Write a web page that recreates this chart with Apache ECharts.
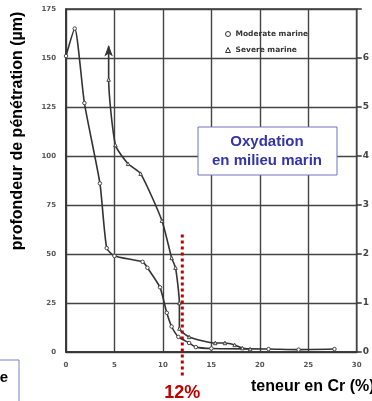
<!DOCTYPE html>
<html>
<head>
<meta charset="utf-8">
<script src="https://cdn.jsdelivr.net/npm/echarts@6/dist/echarts.min.js"></script>
<style>
  html, body { margin: 0; padding: 0; background: #fff; }
  #main { width: 372px; height: 401px; }
</style>
</head>
<body>
<div id="main"></div>
<script>
// valeurs (teneur Cr %, profondeur µm)
var moderateX = [0, 0.9, 1.9, 3.5, 4.2, 5, 7.9, 8.4, 9.7, 10.4, 10.9, 11.6, 12.7, 13.4, 15, 20.9, 24, 27.7];
var moderateY = [151, 165, 127, 86, 53, 49, 46, 43, 33, 20, 13, 7.7, 4.6, 2.5, 1.8, 1.5, 1.2, 1.5];
var severeX = [4.4, 4.4, 5.1, 6.4, 7.7, 9.9, 10.9, 11.3, 11.7, 11.7, 12.7, 15.4, 16.4, 17.4, 18.2, 19];
var severeY = [156, 139, 105.6, 96, 91, 67, 48, 43, 25, 12, 7.7, 4.6, 4.6, 3.6, 2, 1.5];
var xTicks = [0, 5, 10, 15, 20, 25, 30];
var yTicks = [0, 25, 50, 75, 100, 125, 150, 175];
var rightTicks = [0, 1, 2, 3, 4, 5, 6, 7];
var limitCr = 12;      // ligne rouge
var limitTop = 60;

function pairs(xs, ys) {
  var out = [];
  for (var i = 0; i < xs.length; i++) out.push([xs[i], ys[i]]);
  return out;
}

var severeData = pairs(severeX, severeY);
// la premiere valeur porte la fleche
severeData[0] = { value: severeData[0], symbol: 'arrow', symbolSize: [5, 9], itemStyle: { color: '#333', borderColor: '#333' } };

var lblStyle = { fontSize: 7, fontWeight: 'bold', color: '#555', fontFamily: 'DejaVu Sans' };

var myChart = echarts.init(document.getElementById('main'));
myChart.setOption({
  animation: false,
  backgroundColor: '#fff',
  grid: { left: 66, right: 9, top: 9, bottom: 49, show: true, borderColor: '#333', borderWidth: 1.5 },
  legend: {
    orient: 'vertical',
    left: 220,
    top: 25,
    itemWidth: 5,
    itemHeight: 5,
    itemGap: 8,
    data: [
      { name: 'Moderate marine', icon: 'circle' },
      { name: 'Severe marine', icon: 'triangle' }
    ],
    itemStyle: { color: '#fff', borderColor: '#333', borderWidth: 1 },
    textStyle: { fontSize: 7.5, fontWeight: 'bold', color: '#333', fontFamily: 'DejaVu Sans' }
  },
  xAxis: {
    type: 'value',
    min: xTicks[0],
    max: xTicks[xTicks.length - 1],
    interval: 5,
    axisLine: { lineStyle: { color: '#333', width: 1.5 } },
    axisTick: { show: false },
    axisLabel: Object.assign({ margin: 10 }, lblStyle),
    splitLine: { lineStyle: { color: '#444', width: 1.4 } }
  },
  yAxis: [{
    type: 'value',
    min: yTicks[0],
    max: yTicks[yTicks.length - 1],
    interval: 25,
    axisLine: { show: true, lineStyle: { color: '#333', width: 1.5 } },
    axisTick: { show: false },
    axisLabel: Object.assign({ margin: 10 }, lblStyle),
    splitLine: { lineStyle: { color: '#444', width: 1.4 } }
  }, {
    type: 'value',
    position: 'right',
    min: rightTicks[0],
    max: rightTicks[rightTicks.length - 1],
    interval: 1,
    axisLine: { show: false },
    axisTick: { show: true, inside: false, length: 5, lineStyle: { color: '#333', width: 1.5 } },
    axisLabel: Object.assign({ margin: 6, formatter: function (v) { return v === 7 ? '' : v; } }, lblStyle, { fontSize: 9, color: '#444' }),
    splitLine: { show: false }
  }],
  series: [{
    name: 'Moderate marine',
    type: 'line',
    smooth: 0.2,
    data: pairs(moderateX, moderateY),
    symbol: 'circle',
    symbolSize: 3.5,
    lineStyle: { color: '#333', width: 1.6 },
    itemStyle: { color: '#fff', borderColor: '#444', borderWidth: 1 }
  }, {
    name: 'Severe marine',
    type: 'line',
    smooth: 0.2,
    data: severeData,
    symbol: 'triangle',
    symbolSize: 3.5,
    lineStyle: { color: '#333', width: 1.6 },
    itemStyle: { color: '#fff', borderColor: '#444', borderWidth: 1 }
  }]
});

// annotations
var top12 = myChart.convertToPixel({ gridIndex: 0 }, [limitCr, limitTop]);
myChart.setOption({
  graphic: [
    {
      type: 'line',
      shape: { x1: top12[0], y1: top12[1], x2: top12[0], y2: 378 },
      style: { stroke: '#c00000', lineWidth: 3, lineDash: [3, 3] },
      z: 10
    },
    {
      type: 'text',
      x: top12[0], y: 393,
      style: { text: '12%', fill: '#c00000', font: 'bold 18px "Liberation Sans"', align: 'center', verticalAlign: 'middle' }
    },
    {
      type: 'text',
      x: 251, y: 387,
      style: { text: 'teneur en Cr (%)', fill: '#000', font: 'bold 16px "Liberation Sans"', verticalAlign: 'middle' }
    },
    {
      type: 'text',
      x: 18, y: 131,
      rotation: Math.PI / 2,
      style: { text: 'profondeur de pénétration (µm)', fill: '#000', font: 'bold 16px "Liberation Sans"', align: 'center', verticalAlign: 'middle' }
    },
    {
      type: 'rect',
      shape: { x: 198, y: 127, width: 139, height: 48 },
      style: { fill: '#fff', stroke: '#7070c0', lineWidth: 1 },
      z: 10
    },
    {
      type: 'text',
      x: 267, y: 151,
      style: { text: 'Oxydation\nen milieu marin', fill: '#3333aa', font: 'bold 15px "Liberation Sans"', align: 'center', verticalAlign: 'middle', lineHeight: 19 },
      z: 11
    },
    {
      type: 'rect',
      shape: { x: -2, y: 360, width: 21, height: 50 },
      style: { fill: '#fff', stroke: '#8080c8', lineWidth: 1 }
    },
    {
      type: 'text',
      x: 8, y: 378,
      style: { text: 'e', fill: '#000', font: 'bold 15px "Liberation Sans"', align: 'right', verticalAlign: 'middle' }
    }
  ]
});
</script>
</body>
</html>
